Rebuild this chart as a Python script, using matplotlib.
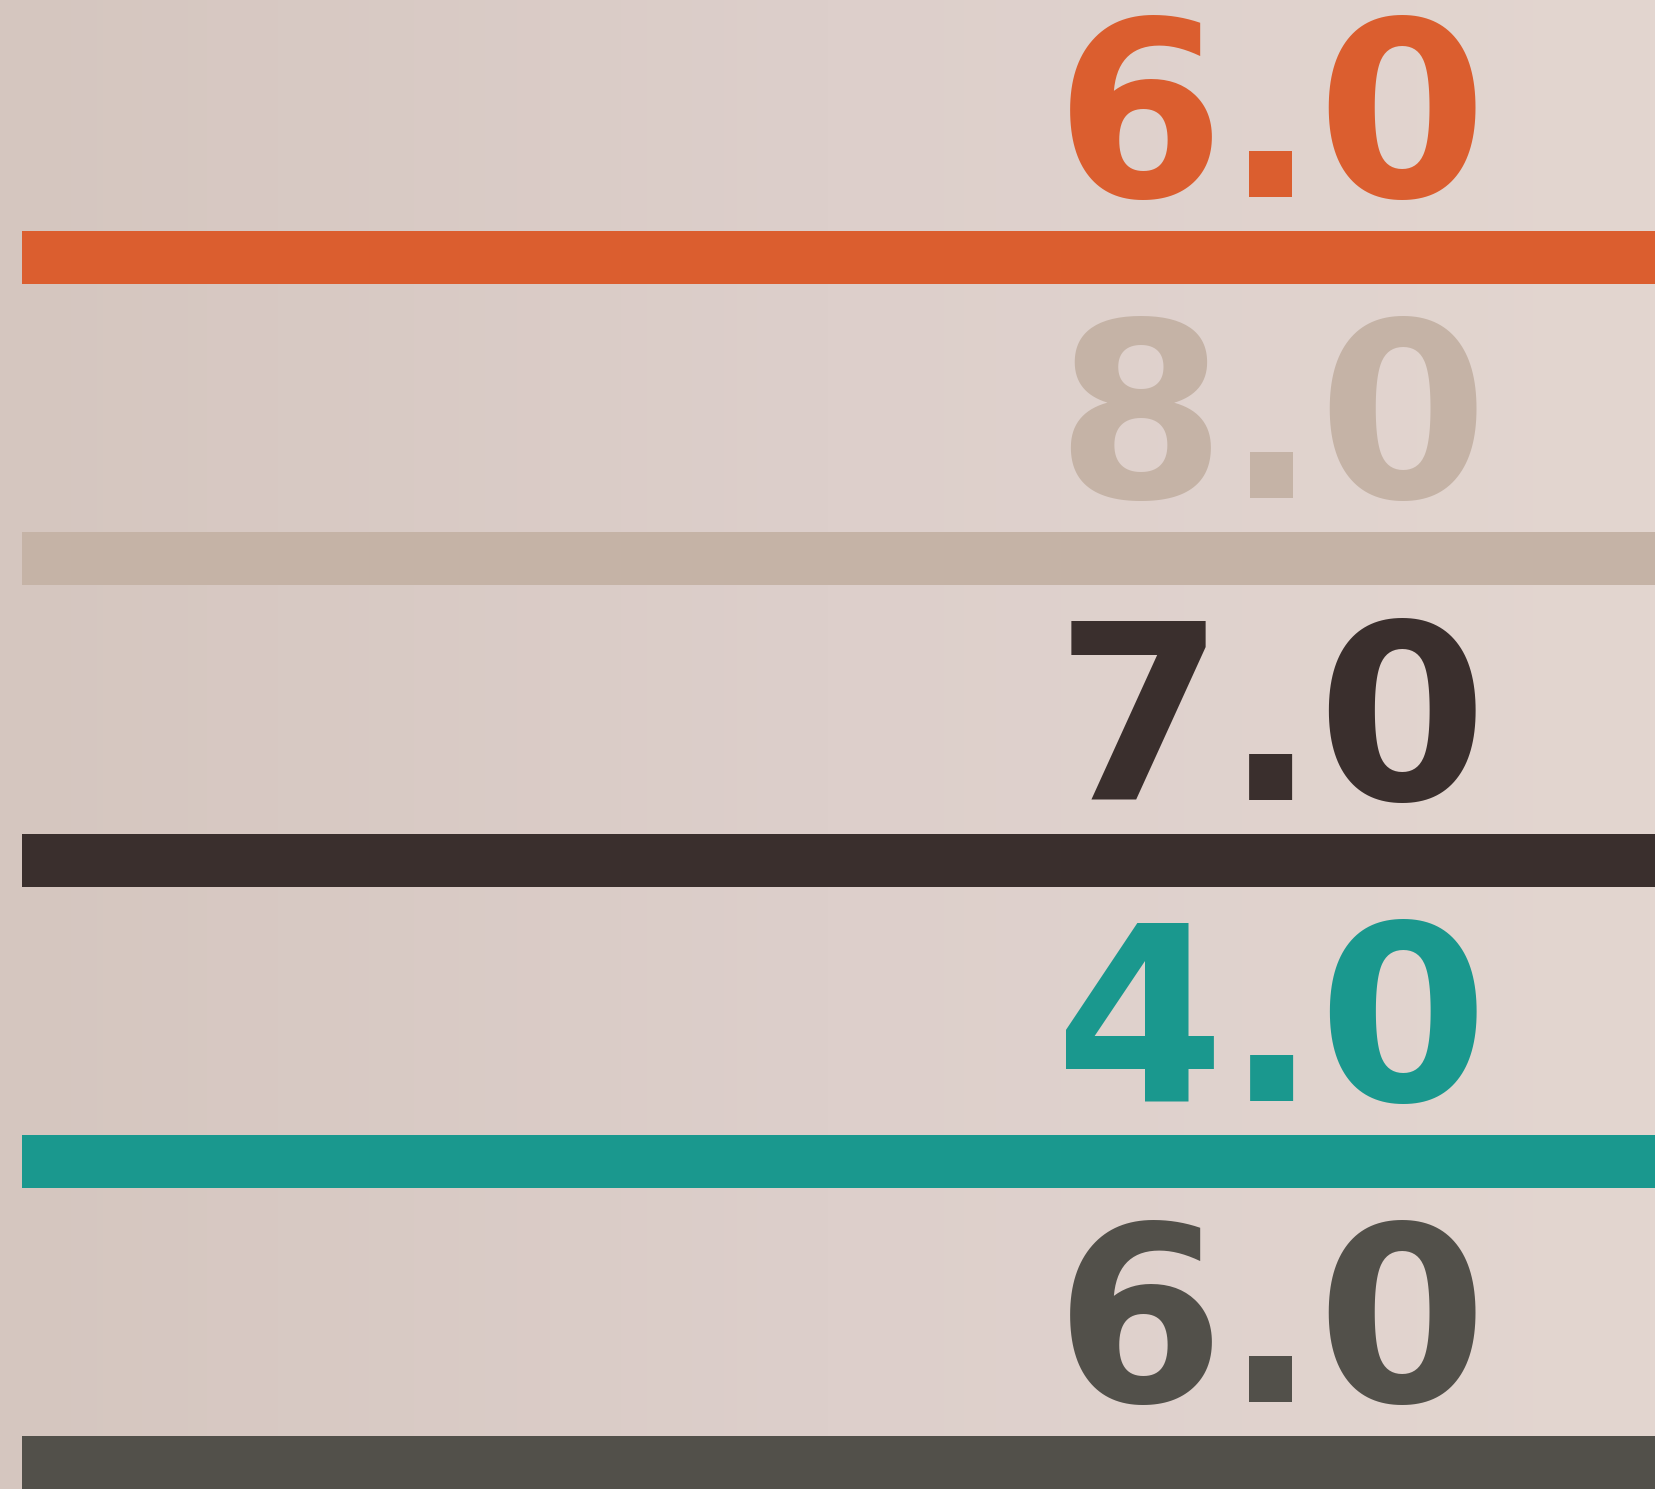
import numpy as np
import matplotlib.pyplot as plt
from matplotlib.colors import LinearSegmentedColormap

# data
categories = ['A', 'B', 'C', 'D', 'E']
values = [6.0, 8.0, 7.0, 4.0, 6.0]
colors = ['#DB5E2F', '#C5B3A6', '#3A2F2D', '#1A988E', '#52504A']

W, H = 1656, 1489
fig = plt.figure(figsize=(W / 100, H / 100), dpi=100)

# soft paper-like background gradient
bg = fig.add_axes([0, 0, 1, 1])
bg.axis('off')
grad = np.linspace(0, 1, 256).reshape(1, -1)
cmap = LinearSegmentedColormap.from_list('paper', ['#D5C6BF', '#DDCFCB', '#E3D6D0'])
bg.imshow(grad, aspect='auto', cmap=cmap, extent=[0, 1, 0, 1])

ax = fig.add_axes([0, 0, 1, 1])
ax.patch.set_alpha(0)
ax.axis('off')

step = 301.3  # px between bars
top0 = 257.5  # px, center of first bar
ax.set_xlim(0, 1)
ax.set_ylim((H - top0) / step, -top0 / step)

bar_h = 53 / step
y = np.arange(len(categories))
x0 = 22 / W
ax.barh(y, [1 - x0] * len(categories), left=x0, height=bar_h, color=colors)

for i, (v, c) in enumerate(zip(values, colors)):
    ax.text(1488 / W, i - bar_h / 2 - 34 / step, f'{v:.1f}', color=c,
            ha='right', va='baseline', fontsize=176,
            family='DejaVu Sans', fontweight='bold')

fig.savefig('out.png', dpi=100)
